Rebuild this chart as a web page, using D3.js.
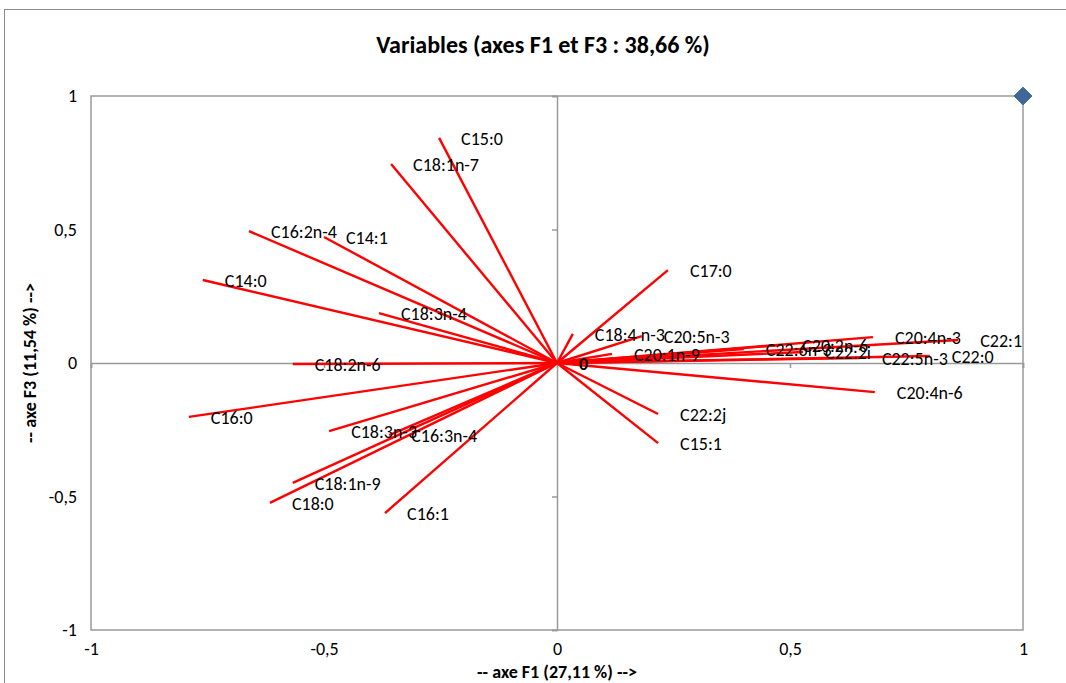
<!DOCTYPE html>
<html>
<head>
<meta charset="utf-8">
<script src="https://cdn.jsdelivr.net/npm/d3@7"></script>
<style>
  html, body { margin: 0; padding: 0; background: #fff; }
  svg { display: block; font-family: Carlito, Lato, "Open Sans", sans-serif; }
</style>
</head>
<body>
<svg id="chart" width="1066" height="683"></svg>
<script>
const variables = ["C15:0","C18:1n-7","C16:2n-4","C14:1","C14:0","C18:3n-4","C18:2n-6","C16:0","C18:3n-3","C16:3n-4","C18:1n-9","C18:0","C16:1",
  "C17:0","C18:4 n-3","C20:5n-3","C20:1n-9","C22:6n-3","C20:2n-6","C22:2i","C20:4n-3","C22:1","C22:0","C22:5n-3","C20:4n-6","C22:2j","C15:1"];
const f1 = [-0.253,-0.356,-0.661,-0.500,-0.760,-0.382,-0.567,-0.790,-0.489,-0.360,-0.567,-0.616,-0.369,
  0.238,0.034,0.182,0.118,0.401,0.479,0.528,0.678,0.861,0.800,0.650,0.682,0.217,0.217];
const f3 = [0.843,0.745,0.494,0.472,0.311,0.187,-0.004,-0.202,-0.255,-0.270,-0.449,-0.524,-0.562,
  0.348,0.109,0.101,0.034,0.052,0.067,0.041,0.097,0.086,0.026,0.019,-0.109,-0.191,-0.300];
const originLabel = ["0"];
const cornerPoint = [[1, 1]];
const xTicks = [-1, -0.5, 0, 0.5, 1];
const yTicks = [-1, -0.5, 0, 0.5, 1];
const titleText = "Variables (axes F1 et F3 : 38,66 %)";
const xTitle = "-- axe F1 (27,11 %) -->";
const yTitle = "-- axe F3 (11,54 %) -->";

const svg = d3.select("#chart");
const fmt = v => String(v).replace(".", ",");

// outer chart border
svg.append("rect").attr("x", 4.5).attr("y", 9.5).attr("width", 1100).attr("height", 700)
  .attr("fill", "none").attr("stroke", "#8c8c8c").attr("stroke-width", 1);

const x = d3.scaleLinear().domain([-1, 1]).range([91, 1023]);
const y = d3.scaleLinear().domain([-1, 1]).range([630, 96]);

// plot frame
svg.append("rect").attr("x", x(-1)).attr("y", y(1)).attr("width", x(1) - x(-1)).attr("height", y(-1) - y(1))
  .attr("fill", "none").attr("stroke", "#9a9a9a").attr("stroke-width", 1.5);

// zero axes with ticks
const xAxisZero = d3.axisBottom(x).tickValues(xTicks).tickSize(5).tickFormat("");
const gx = svg.append("g").attr("transform", `translate(0,${y(0)})`).call(xAxisZero);
const yAxisZero = d3.axisLeft(y).tickValues(yTicks).tickSize(5).tickFormat("");
const gy = svg.append("g").attr("transform", `translate(${x(0)},0)`).call(yAxisZero);
[gx, gy].forEach(g => {
  g.selectAll("path").attr("stroke", "#9a9a9a").attr("stroke-width", 1.5);
  g.selectAll("line").attr("stroke", "#9a9a9a").attr("stroke-width", 1.5);
});

// outer tick labels
const xLab = d3.axisBottom(x).tickValues(xTicks).tickSize(0).tickPadding(12).tickFormat(fmt);
const gxl = svg.append("g").attr("transform", `translate(0,${y(-1)})`).call(xLab);
const yLab = d3.axisLeft(y).tickValues(yTicks).tickSize(0).tickPadding(14).tickFormat(fmt);
const gyl = svg.append("g").attr("transform", `translate(${x(-1)},0)`).call(yLab);
[gxl, gyl].forEach(g => {
  g.select(".domain").remove();
  g.selectAll("text").attr("font-size", 18).attr("fill", "#000").attr("font-family", "Carlito, Lato, sans-serif");
});

// vectors
const data = variables.map((n, i) => ({ name: n, f1: f1[i], f3: f3[i] }));
svg.append("g").selectAll("line").data(data).join("line")
  .attr("x1", x(0)).attr("y1", y(0))
  .attr("x2", d => x(d.f1)).attr("y2", d => y(d.f3))
  .attr("stroke", "#ff0000").attr("stroke-width", 2.4);

svg.append("g").selectAll("text").data(data).join("text")
  .attr("x", d => x(d.f1) + 22).attr("y", d => y(d.f3) + 7)
  .attr("font-size", 18).attr("fill", "#000")
  .text(d => d.name);

// origin label
svg.append("text").attr("x", x(0) + 22).attr("y", y(0) + 7)
  .attr("font-size", 18).attr("font-weight", "bold").text(originLabel[0]);

// corner diamond
svg.append("g").selectAll("path").data(cornerPoint).join("path")
  .attr("transform", d => `translate(${x(d[0])},${y(d[1])})`)
  .attr("d", d3.symbol(d3.symbolDiamond2, 200))
  .attr("fill", "#3f679b").attr("stroke", "#365c8d").attr("stroke-width", 1);

// titles
svg.append("text").attr("x", 543).attr("y", 53).attr("text-anchor", "middle")
  .attr("font-size", 24).attr("font-weight", "bold").text(titleText);
svg.append("text").attr("x", x(0)).attr("y", 678).attr("text-anchor", "middle")
  .attr("font-size", 18).attr("font-weight", "bold").text(xTitle);
svg.append("text").attr("transform", `translate(36,${y(0)}) rotate(-90)`).attr("text-anchor", "middle")
  .attr("font-size", 18).attr("font-weight", "bold").text(yTitle);
</script>
</body>
</html>
